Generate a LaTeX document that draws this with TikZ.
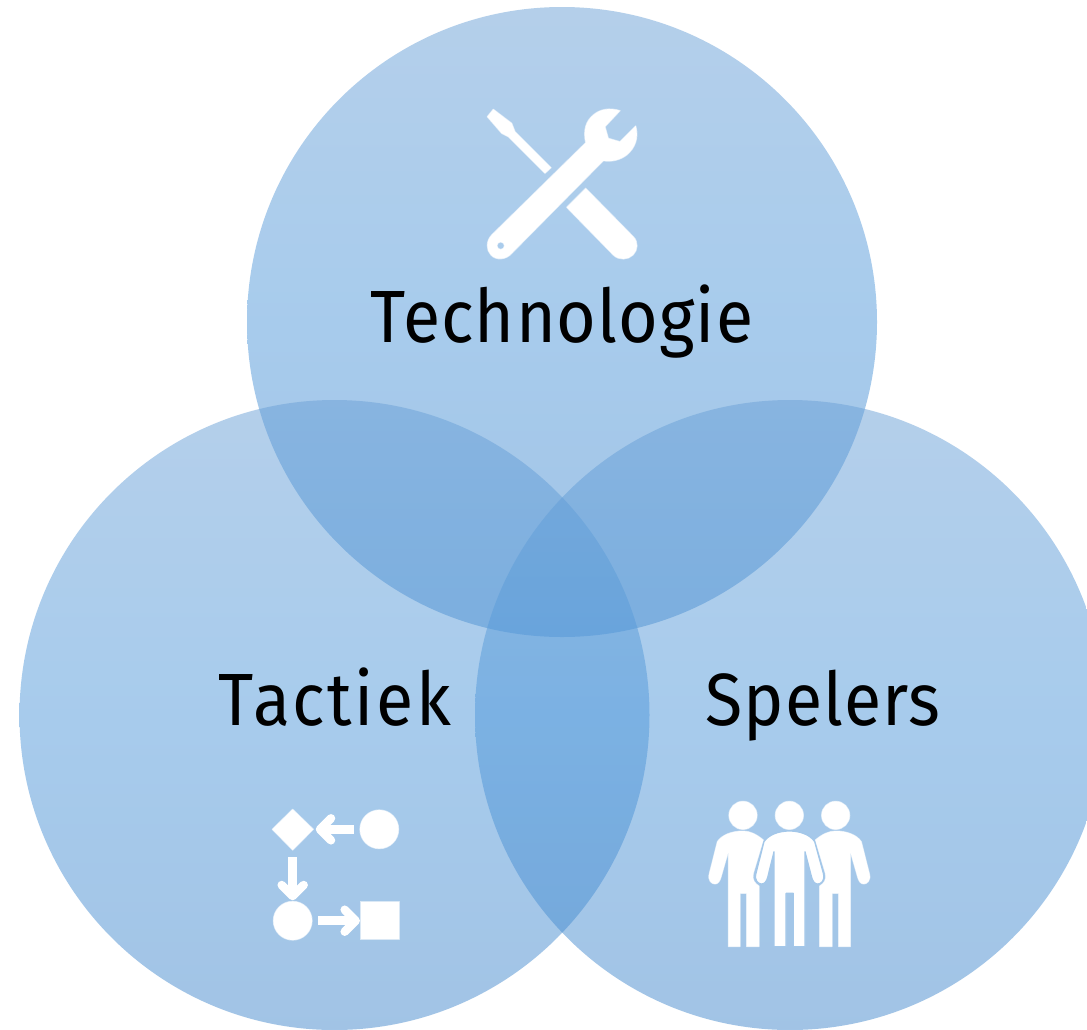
\documentclass[tikz,border=0pt]{standalone}
\usepackage{fontspec}
\setmainfont{Fira Sans}
\newfontfamily\lblfont[LetterSpace=1.5,FakeStretch=0.92]{Fira Sans}
\newfontfamily\lblwidefont[LetterSpace=3.5,FakeStretch=0.92]{Fira Sans}
\definecolor{discTop}{RGB}{107,161,215}
\definecolor{discMid}{RGB}{81,153,219}
\definecolor{discBot}{RGB}{69,137,205}
\definecolor{gapBlue}{RGB}{163,199,233}
\pgfdeclareverticalshading{discshade}{100bp}{color(0bp)=(discBot); color(25bp)=(discBot); color(50bp)=(discMid); color(75bp)=(discTop); color(100bp)=(discTop)}
\tikzset{
  disc/.style={shade, shading=discshade, fill opacity=0.5},
  lbl/.style={font=\lblfont\fontsize{74}{80}\selectfont, text=black, anchor=base, inner sep=0pt},
  lblwide/.style={font=\lblwidefont\fontsize{74}{80}\selectfont, text=black, anchor=base, inner sep=0pt},
  ico/.style={fill=white, draw=white, draw opacity=0.6, line width=1.2pt, line join=round},
  icoarrow/.style={draw=white, line width=8.5pt, line cap=round, line join=round, fill=none},
  personshape/.style={fill=white, draw=white, draw opacity=0.6, line width=1pt, line join=round},
}
\newcommand{\leftbody}{(129,123) .. controls (95,123) and (65,135) .. (52,155) -- (28,250) .. controls (22,272) and (35,282) .. (45,282) .. controls (55,282) and (60,272) .. (63,262) -- (85,185) -- (85,470) -- (120,470) -- (120,310) -- (140,310) -- (140,470) -- (177,470) -- (177,288) .. controls (165,280) and (155,270) .. (160,250) -- (190,150) .. controls (170,133) and (150,123) .. (129,123) -- cycle}
\newcommand{\centrebody}{(268,123) .. controls (235,123) and (205,135) .. (192,155) -- (168,250) .. controls (162,272) and (175,282) .. (185,282) .. controls (195,282) and (200,272) .. (203,262) -- (222,185) -- (222,470) -- (258,470) -- (258,310) -- (280,310) -- (280,470) -- (315,470) -- (315,185) -- (335,262) .. controls (338,272) and (343,282) .. (353,282) .. controls (363,282) and (376,272) .. (370,250) -- (344,155) .. controls (331,135) and (301,123) .. (268,123) -- cycle}
\begin{document}
\begin{tikzpicture}[x=1pt,y=-1pt]
\useasboundingbox (0,0) rectangle (1087,1029);
\clip (0,0) rectangle (1087,1029);
\fill[white] (0,0) rectangle (1087,1029);
\path[disc] (562,322) circle[radius=315];
\path[disc] (334.5,715) circle[radius=315];
\path[disc] (790,715) circle[radius=315];
% wrench
\path[ico,even odd rule] (585.7,142.7) .. controls (583,130) and (586,121) .. (593.3,115) .. controls (600,109) and (610,107.5) .. (620,110.7)
 -- (605,126.7) -- (608.3,138.3) -- (620,141.7) -- (635.7,126)
 .. controls (639,138) and (635,148) .. (626.7,155) .. controls (620,160) and (612,162) .. (603.3,160.7)
 -- (511.7,253.3) .. controls (506,260) and (496,260.5) .. (491,255) .. controls (486,250) and (486,241) .. (491.7,235) -- cycle
 (500.7,245.7) circle[radius=3.8];
% screwdriver
\path[ico] (493.3,109.3) -- (487.3,116.7) -- (501.7,133.3) -- (508.3,136.7) -- (545,173.3) -- (551,167.7) -- (515,131.7) -- (511.7,123.3) -- cycle;
% hammer handle
\path[ico] (585.7,188.3) -- (566.7,207.3) -- (613.3,255) .. controls (619,260.5) and (628,260) .. (633,255) .. controls (638,250) and (638.5,242) .. (633.3,236.7) -- cycle;
% tactics icon
\path[ico] (292.7,809.3) -- (313.3,829.3) -- (292.7,850) -- (272.3,829.3) -- cycle;
\path[ico] (379.3,829.3) circle[radius=19.3];
\path[ico] (292.7,920.7) circle[radius=19.3];
\path[ico] (360.7,901.7) rectangle (399,939.3);
\draw[icoarrow,line cap=butt] (354,829.3) -- (322,829.3);
\draw[icoarrow] (331,818.3) -- (320,829.3) -- (331,840.3);
\draw[icoarrow,line cap=butt] (292.7,857) -- (292.7,892);
\draw[icoarrow] (281.7,885) -- (292.7,896) -- (303.7,885);
\draw[icoarrow,line cap=butt] (318.3,920.7) -- (353,920.7);
\draw[icoarrow] (344.7,909.7) -- (355.7,920.7) -- (344.7,931.7);
% players icon
\begin{scope}[shift={(700,790)},scale=1/3]
\path[ico] (129,76) circle[radius=42];
\path[ico] (268,76) circle[radius=42];
\path[ico] (407,76) circle[radius=42];
\path[personshape] \leftbody;
\begin{scope}[shift={(536,0)},xscale=-1]
\path[personshape] \leftbody;
\end{scope}
\path[fill=white,draw=gapBlue,line width=1.2pt,line join=round] \centrebody;
\end{scope}
% labels
\node[lbl] (tech) at (562,342) {Technologie};
\node[lblwide] (tact) at (335,725) {Tactiek};
\node[lbl] (spel) at (823,725) {Spelers};
\end{tikzpicture}
\end{document}
